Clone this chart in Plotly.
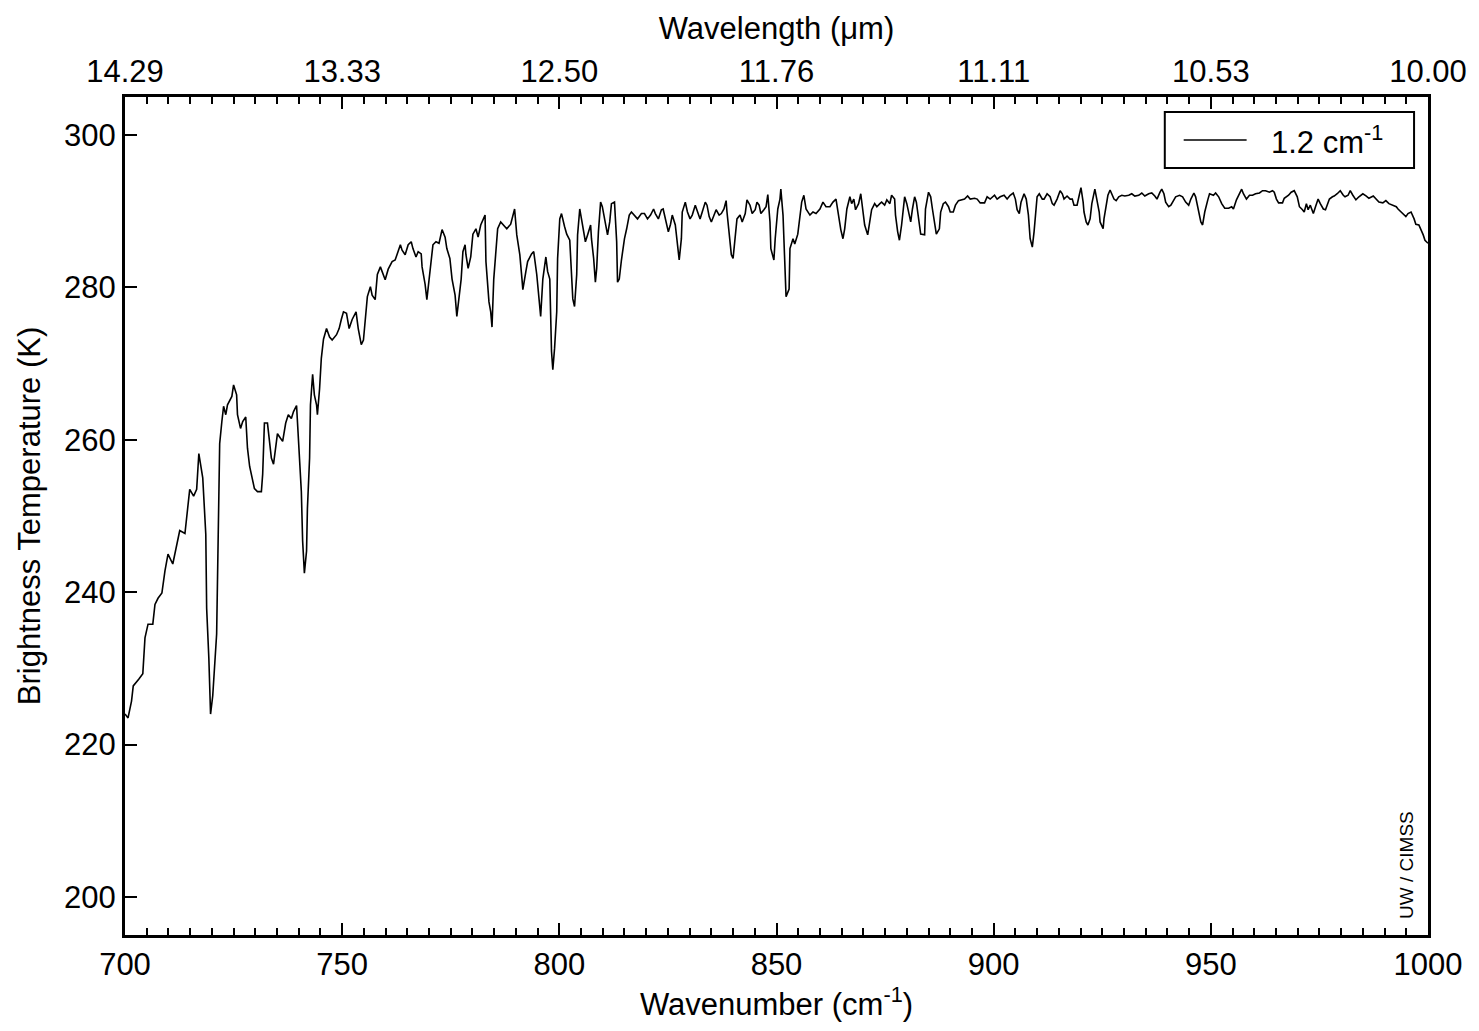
import plotly.graph_objects as go

# Wavenumber (cm-1) and brightness temperature (K)
wavenumber = [
700.0,700.7,701.5,701.9,703.2,704.1,704.6,705.3,706.4,706.9,707.6,708.5,709.2,709.9,711.0,711.9,712.6,713.8,714.5,714.9,
715.8,716.5,717.0,717.4,717.9,718.6,718.8,719.3,719.7,720.2,720.7,721.1,721.3,721.6,721.8,722.3,722.7,723.2,723.6,724.6,
725.0,725.7,725.9,726.6,727.1,727.8,728.2,728.7,729.2,729.8,730.5,731.4,731.7,731.9,732.1,732.8,733.3,733.7,734.2,734.9,
735.1,735.8,736.3,737.0,737.6,738.3,738.8,739.5,739.7,740.2,740.6,740.9,741.3,741.8,742.0,742.5,742.7,743.2,743.6,744.1,
744.3,744.8,745.2,745.7,746.4,747.1,747.7,748.7,749.3,749.8,750.3,751.0,751.6,752.3,753.2,753.7,754.4,754.9,755.5,755.8,
756.5,756.9,757.6,758.1,758.8,759.2,759.9,760.6,761.5,762.2,762.7,763.4,763.8,764.5,765.2,765.9,766.3,767.0,767.5,768.2,
768.4,769.1,769.5,770.0,770.5,770.9,771.6,772.3,773.0,773.7,774.1,774.8,775.3,776.0,776.4,776.9,777.4,777.8,778.3,778.5,
779.0,779.6,780.1,780.8,781.3,781.9,782.4,782.9,783.1,783.8,784.2,784.5,784.9,785.4,785.8,786.5,787.2,787.9,788.8,789.3,
789.7,790.2,790.9,791.4,791.6,792.3,792.7,793.6,794.1,794.8,795.3,795.7,796.2,796.9,797.3,797.8,798.0,798.2,798.5,798.9,
799.4,799.6,800.1,800.5,801.2,801.7,802.4,802.8,803.1,803.5,804.0,804.2,804.7,805.1,805.6,806.0,806.5,807.2,807.4,807.9,
808.3,808.6,809.0,809.5,809.9,810.6,811.1,811.6,812.0,812.7,813.2,813.4,813.8,814.3,815.0,815.5,816.1,816.6,817.3,818.0,
818.9,819.6,820.3,821.0,821.7,822.1,822.8,823.5,823.9,824.6,825.1,825.6,826.0,826.7,827.2,827.6,828.1,828.3,829.0,829.5,
830.1,830.6,831.3,831.8,832.4,832.9,833.6,834.0,834.5,835.0,835.7,836.1,836.8,837.3,837.9,838.4,838.6,839.1,839.6,840.0,
840.5,840.9,841.6,842.1,842.8,843.2,843.9,844.4,845.1,845.5,846.0,846.4,847.1,847.6,848.0,848.5,848.7,849.4,849.7,850.3,
850.8,851.0,851.5,851.9,852.2,852.9,853.1,853.8,854.2,854.9,855.4,855.8,856.3,856.8,857.7,858.4,859.1,860.0,860.7,861.4,
862.3,863.0,863.7,864.1,864.8,865.3,865.7,866.2,866.9,867.3,867.8,868.2,868.9,869.4,869.9,870.3,871.0,871.5,871.9,872.6,
873.1,873.8,874.2,874.9,875.4,876.1,876.5,877.2,877.4,877.9,878.3,878.8,879.3,879.5,880.0,880.4,880.9,881.3,881.8,882.2,
882.7,883.2,884.1,884.3,885.0,885.5,885.9,886.4,886.8,887.5,887.8,888.4,888.9,889.6,890.0,890.7,891.2,891.9,892.6,893.3,
894.0,894.6,895.6,896.2,896.9,897.9,898.5,899.2,900.2,900.8,901.5,902.4,903.1,903.8,904.5,905.0,905.4,905.9,906.3,907.0,
907.5,908.0,908.4,908.9,909.3,909.6,910.0,910.5,911.2,911.6,912.3,913.0,913.5,913.9,914.6,915.3,915.8,916.2,916.9,917.6,
918.1,918.5,919.2,919.7,920.1,920.6,920.8,921.3,921.7,922.2,922.6,923.3,923.8,924.3,924.5,925.2,925.4,925.9,926.3,926.8,
927.3,927.7,928.2,928.8,929.5,930.2,931.1,931.8,932.5,933.4,934.1,934.8,935.7,936.4,937.1,937.6,938.3,938.7,939.2,939.6,
940.3,940.8,941.5,941.9,942.8,943.5,944.2,944.9,945.4,946.1,946.5,947.2,947.7,948.1,948.6,949.3,949.7,950.6,951.1,951.8,
952.5,953.2,954.1,954.8,955.2,955.9,956.6,957.1,957.5,958.2,958.9,959.6,960.3,961.2,961.9,962.6,963.5,964.2,964.6,965.1,
965.6,966.5,966.9,967.9,968.5,969.2,969.9,970.4,971.1,971.5,972.0,972.4,972.9,973.6,974.1,974.7,975.2,975.9,976.4,976.8,
977.3,978.0,978.4,979.1,979.8,980.5,980.9,981.6,982.1,982.7,983.4,984.1,985.0,985.8,986.4,987.4,988.0,988.7,989.6,990.3,
991.0,992.0,992.7,993.1,993.8,994.5,994.9,995.4,996.1,996.8,997.2,997.9,998.4,998.9,999.3,1000.0]

brightness_temp = [
224.0,223.5,225.7,227.7,228.6,229.3,234.0,235.8,235.8,238.4,239.2,239.9,242.8,245.0,243.7,246.3,248.1,247.7,251.0,253.5,
252.6,253.5,258.2,256.5,255.0,247.6,237.9,231.4,224.0,226.4,230.6,234.5,241.7,252.3,259.5,262.4,264.4,263.3,264.6,265.7,
267.2,265.9,263.3,261.5,262.4,263.0,258.9,256.5,255.0,253.6,253.2,253.2,255.5,259.8,262.2,262.2,259.8,257.6,256.8,259.8,
260.8,260.2,259.8,262.2,263.3,262.8,263.7,264.5,262.7,258.2,253.2,246.7,242.5,245.4,251.0,257.6,264.6,268.6,265.9,264.6,
263.3,266.7,270.7,273.2,274.6,273.5,273.1,273.8,274.6,275.8,276.8,276.6,274.6,275.8,276.8,274.6,272.5,273.1,276.4,278.8,
280.1,279.0,278.4,281.7,282.7,282.1,281.0,282.4,283.4,283.6,284.4,285.6,284.9,284.3,285.6,286.0,285.1,284.0,284.7,284.4,
282.7,280.4,278.4,281.1,283.6,285.6,286.0,285.8,287.6,286.6,285.1,283.8,281.1,279.0,276.2,279.0,281.1,284.7,285.6,284.3,
282.5,284.0,287.0,287.7,286.6,288.2,288.9,289.5,283.4,278.1,276.8,274.8,281.1,284.7,287.7,288.6,288.2,287.7,288.3,289.5,
290.3,286.9,284.3,281.1,279.7,282.1,283.4,284.4,284.7,281.7,278.5,276.2,281.1,284.0,282.1,281.1,276.4,271.6,269.2,272.0,
276.8,283.8,289.0,289.7,288.0,287.0,286.2,282.1,278.5,277.5,281.7,286.9,290.3,289.0,287.3,286.0,286.9,288.2,286.4,283.8,
280.7,282.5,287.3,291.2,290.6,288.3,286.9,288.6,291.0,291.2,286.0,280.7,281.1,283.6,286.4,287.7,289.5,289.9,289.5,289.0,
289.7,289.7,289.0,289.5,290.3,289.7,289.0,290.2,290.3,288.6,287.3,288.3,289.5,288.2,286.0,283.6,286.4,289.9,291.2,289.9,
289.0,289.5,290.8,289.9,289.0,289.9,291.2,290.8,289.3,288.6,289.5,290.2,289.5,289.7,290.3,291.4,289.9,286.6,284.3,283.8,
286.9,289.0,289.5,288.6,289.7,291.5,290.8,289.7,290.2,291.2,290.8,289.7,290.2,290.6,292.2,288.6,285.1,283.6,286.4,290.3,
291.6,292.9,289.5,282.5,278.8,279.8,285.1,286.4,285.7,287.0,289.0,291.2,292.1,290.3,289.5,289.9,289.7,290.3,291.2,290.6,
290.6,291.2,291.6,289.9,287.6,286.4,287.7,290.3,291.9,291.0,291.6,290.2,291.0,292.3,289.9,288.2,286.9,288.6,290.2,291.0,
290.6,291.0,291.2,290.8,291.5,291.0,292.1,291.6,289.5,287.3,286.2,288.2,290.6,291.9,291.0,289.9,288.6,290.3,291.9,291.2,
289.0,287.0,286.9,290.3,292.5,291.9,290.3,288.2,287.0,287.7,289.9,291.0,291.2,290.6,289.9,289.9,290.8,291.4,291.5,291.6,
292.0,291.6,291.7,291.6,291.1,291.1,291.9,291.6,292.1,291.6,291.9,292.1,291.6,292.1,292.4,291.6,290.2,289.7,291.2,292.3,
291.6,289.5,286.4,285.3,287.3,289.9,291.9,292.3,291.6,291.6,292.3,291.9,291.0,290.8,291.6,292.7,292.3,291.6,292.0,291.6,
291.6,290.8,290.8,292.1,293.1,291.2,289.9,288.6,288.2,289.0,291.0,292.9,291.6,289.9,288.6,287.7,289.0,290.8,292.1,292.8,
292.1,291.6,291.4,291.9,292.1,292.0,292.1,292.3,292.0,292.1,292.4,292.0,292.3,292.4,292.0,291.6,292.5,292.9,292.3,291.2,
290.6,290.8,291.5,291.9,292.1,291.9,291.2,290.8,291.6,292.4,291.9,290.2,288.6,288.2,289.9,291.5,292.3,292.1,292.4,291.9,
291.0,290.4,290.4,290.6,290.3,291.5,292.3,292.9,292.3,291.6,292.1,292.1,292.3,292.4,292.7,292.7,292.5,292.7,292.5,291.6,
291.1,291.1,291.7,292.1,292.5,292.7,291.9,290.6,290.2,289.9,291.0,290.2,290.8,289.7,290.6,291.6,291.0,290.3,290.2,290.8,
291.6,291.9,292.0,292.3,292.7,292.1,291.9,292.1,292.7,292.1,291.5,291.9,292.3,292.0,291.7,292.0,291.6,291.2,291.1,291.4,
291.0,290.8,290.6,290.3,289.9,289.5,289.3,289.7,289.9,289.0,288.3,288.2,287.6,286.9,286.2,285.8]

# Axis tick labels
y_ticks = [200, 220, 240, 260, 280, 300]
x_ticks = [700, 750, 800, 850, 900, 950, 1000]
wavelength_labels = ["14.29", "13.33", "12.50", "11.76", "11.11", "10.53", "10.00"]

FONT = "Liberation Sans, Arial, Helvetica, sans-serif"
FS = 31

fig = go.Figure()
fig.add_trace(go.Scatter(
    x=wavenumber, y=brightness_temp, mode="lines",
    line=dict(color="black", width=1.6),
    name="1.2 cm<sup>-1</sup>", showlegend=False,
))
# invisible trace to activate the top wavelength axis
fig.add_trace(go.Scatter(
    x=wavenumber, y=brightness_temp, xaxis="x2", mode="lines",
    line=dict(color="rgba(0,0,0,0)", width=0), showlegend=False, hoverinfo="skip",
))

axis_common = dict(
    showline=True, linecolor="black", linewidth=3, showgrid=False, zeroline=False,
    ticks="inside", tickcolor="black", tickwidth=2, ticklen=12,
    tickfont=dict(family=FONT, size=FS, color="black"),
)
minor_ticks = dict(tickmode="linear", tick0=700, dtick=5, ticks="inside", ticklen=7,
                   tickwidth=2, tickcolor="black")

# legend box geometry (paper coordinates)
LEG_X0, LEG_X1, LEG_Y0, LEG_Y1 = 0.798, 0.9893, 0.9153, 0.982
LEG_YM = (LEG_Y0 + LEG_Y1) / 2

fig.update_layout(
    width=1479, height=1031,
    margin=dict(l=125, r=47, t=97, b=96),
    paper_bgcolor="white", plot_bgcolor="white",
    font=dict(family=FONT, size=FS, color="black"),
    xaxis=dict(
        **axis_common, range=[700, 1000], tickmode="array", tickvals=x_ticks,
        minor=minor_ticks,
        title=dict(text="Wavenumber (cm<sup>-1</sup>)", font=dict(family=FONT, size=FS), standoff=13),
    ),
    xaxis2=dict(
        **axis_common, range=[700, 1000], overlaying="x", side="top", anchor="y",
        tickmode="array", tickvals=x_ticks, ticktext=wavelength_labels,
        minor=minor_ticks,
        title=dict(text="Wavelength (\u03bcm)", font=dict(family=FONT, size=FS), standoff=5),
    ),
    yaxis=dict(
        **axis_common, range=[195, 305], tickmode="array", tickvals=y_ticks, mirror=True,
        title=dict(text="Brightness Temperature (K)", font=dict(family=FONT, size=FS), standoff=15),
    ),
    showlegend=False,
    shapes=[
        dict(type="rect", xref="paper", yref="paper", x0=LEG_X0, x1=LEG_X1, y0=LEG_Y0, y1=LEG_Y1,
             line=dict(color="black", width=2), fillcolor="white", layer="above"),
        dict(type="line", xref="paper", yref="paper", x0=0.8125, x1=0.8608, y0=LEG_YM, y1=LEG_YM,
             line=dict(color="black", width=1.6), layer="above"),
    ],
    annotations=[
        dict(text="1.2 cm<sup>-1</sup>", xref="paper", yref="paper", x=0.8776, y=LEG_YM,
             xanchor="left", yanchor="middle", showarrow=False,
             font=dict(family=FONT, size=FS, color="black")),
        dict(text="UW / CIMSS", xref="paper", yref="paper", x=0.983, y=0.0835,
             xanchor="center", yanchor="middle",
             textangle=-90, showarrow=False, font=dict(family=FONT, size=19, color="black")),
    ],
)

fig.write_html("out.html")
